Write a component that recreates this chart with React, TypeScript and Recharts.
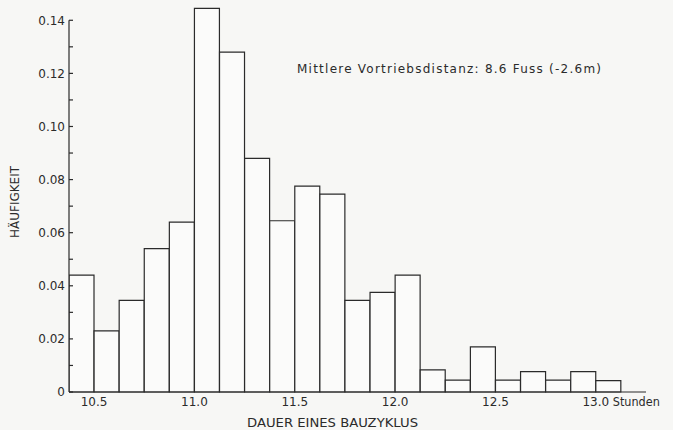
import React from 'react';
import { BarChart, Bar, XAxis, YAxis, ReferenceLine } from 'recharts';

// Histogramm: Dauer eines Bauzyklus (Stunden), Klassenbreite 1/8 Stunde
const binMid = [
  10.4375, 10.5625, 10.6875, 10.8125, 10.9375, 11.0625, 11.1875, 11.3125, 11.4375, 11.5625, 11.6875,
  11.8125, 11.9375, 12.0625, 12.1875, 12.3125, 12.4375, 12.5625, 12.6875, 12.8125, 12.9375, 13.0625,
];
const frequency = [
  0.044, 0.023, 0.0345, 0.054, 0.064, 0.1445, 0.128, 0.088, 0.0645, 0.0775, 0.0745,
  0.0345, 0.0375, 0.044, 0.0083, 0.0045, 0.017, 0.0045, 0.0077, 0.0045, 0.0077, 0.0043,
];
const hourTicks = [10.5, 11.0, 11.5, 12.0, 12.5, 13.0];
const freqTicks = [0, 0.01, 0.02, 0.03, 0.04, 0.05, 0.06, 0.07, 0.08, 0.09, 0.1, 0.11, 0.12, 0.13, 0.14];

const data = binMid.map((mid, i) => ({ mid, value: frequency[i] }));

const INK = '#2b2b2b';
const FONT = '"DejaVu Sans", "Noto Sans", sans-serif';

const YTick = (props: any) => {
  const { x, y, payload, index } = props;
  const label = index % 2 === 1 ? '' : payload.value === 0 ? '0' : payload.value.toFixed(2);
  return (
    <g>
      <line x1={x + 4} x2={x + 8} y1={y} y2={y} stroke={INK} strokeWidth={1.2} />
      {label && (
        <text x={x} y={y} dy="0.355em" textAnchor="end" fontSize={12} fill={INK} fontFamily={FONT}>
          {label}
        </text>
      )}
    </g>
  );
};

const XTick = (props: any) => {
  const { x, y, payload } = props;
  const label = payload.value.toFixed(1);
  return (
    <g>
      <text x={x} y={y} dy="0.71em" textAnchor="middle" fontSize={12} fill={INK} fontFamily={FONT}>
        {label}
      </text>
      {payload.value === 13 && (
        <text x={x + 17} y={y} dy="0.71em" textAnchor="start" fontSize={12} fill={INK} fontFamily={FONT} textLength={47} lengthAdjust="spacingAndGlyphs">
          Stunden
        </text>
      )}
    </g>
  );
};

export default function App() {
  return (
    <div style={{ position: 'absolute', left: 0, top: 0, width: 673, height: 430, background: '#f7f7f5' }}>
      <BarChart
        width={673}
        height={430}
        data={data}
        margin={{ top: 7, right: 27, bottom: 8, left: 9 }}
        barCategoryGap={0}
        barGap={0}
      >
        <XAxis
          dataKey="mid"
          type="number"
          domain={[10.375, 13.25]}
          ticks={hourTicks}
          interval={0}
          allowDataOverflow
          height={30}
          tickLine={false}
          tickSize={0}
          tickMargin={5}
          axisLine={{ stroke: INK, strokeWidth: 1.2 }}
          tick={<XTick />}
        />
        <YAxis
          type="number"
          domain={[0, 0.145]}
          ticks={freqTicks}
          interval={0}
          width={60}
          axisLine={false}
          tickLine={false}
          tickSize={0}
          tickMargin={4}
          tick={<YTick />}
        />
        <ReferenceLine
          segment={[{ x: 10.375, y: 0 }, { x: 10.375, y: 0.14 }]}
          stroke={INK}
          strokeWidth={1.2}
          ifOverflow="visible"
        />
        <Bar
          dataKey="value"
          fill="#fbfbfa"
          stroke={INK}
          strokeWidth={1.2}
          isAnimationActive={false}
        />
        <text
          x={297}
          y={73}
          fontSize={12}
          fill={INK}
          fontFamily={FONT}
          textLength={304}
          lengthAdjust="spacing"
        >
          Mittlere Vortriebsdistanz: 8.6 Fuss (-2.6m)
        </text>
        <text
          x={332.5}
          y={422}
          dy="0.355em"
          textAnchor="middle"
          fontSize={13}
          fill={INK}
          fontFamily={FONT}
          textLength={171}
          lengthAdjust="spacingAndGlyphs"
        >
          DAUER EINES BAUZYKLUS
        </text>
        <text
          x={15}
          y={202}
          dy="0.355em"
          textAnchor="middle"
          fontSize={12}
          fill={INK}
          fontFamily={FONT}
          textLength={72}
          lengthAdjust="spacingAndGlyphs"
          transform="rotate(-90 15 202)"
        >
          HÄUFIGKEIT
        </text>
      </BarChart>
    </div>
  );
}
